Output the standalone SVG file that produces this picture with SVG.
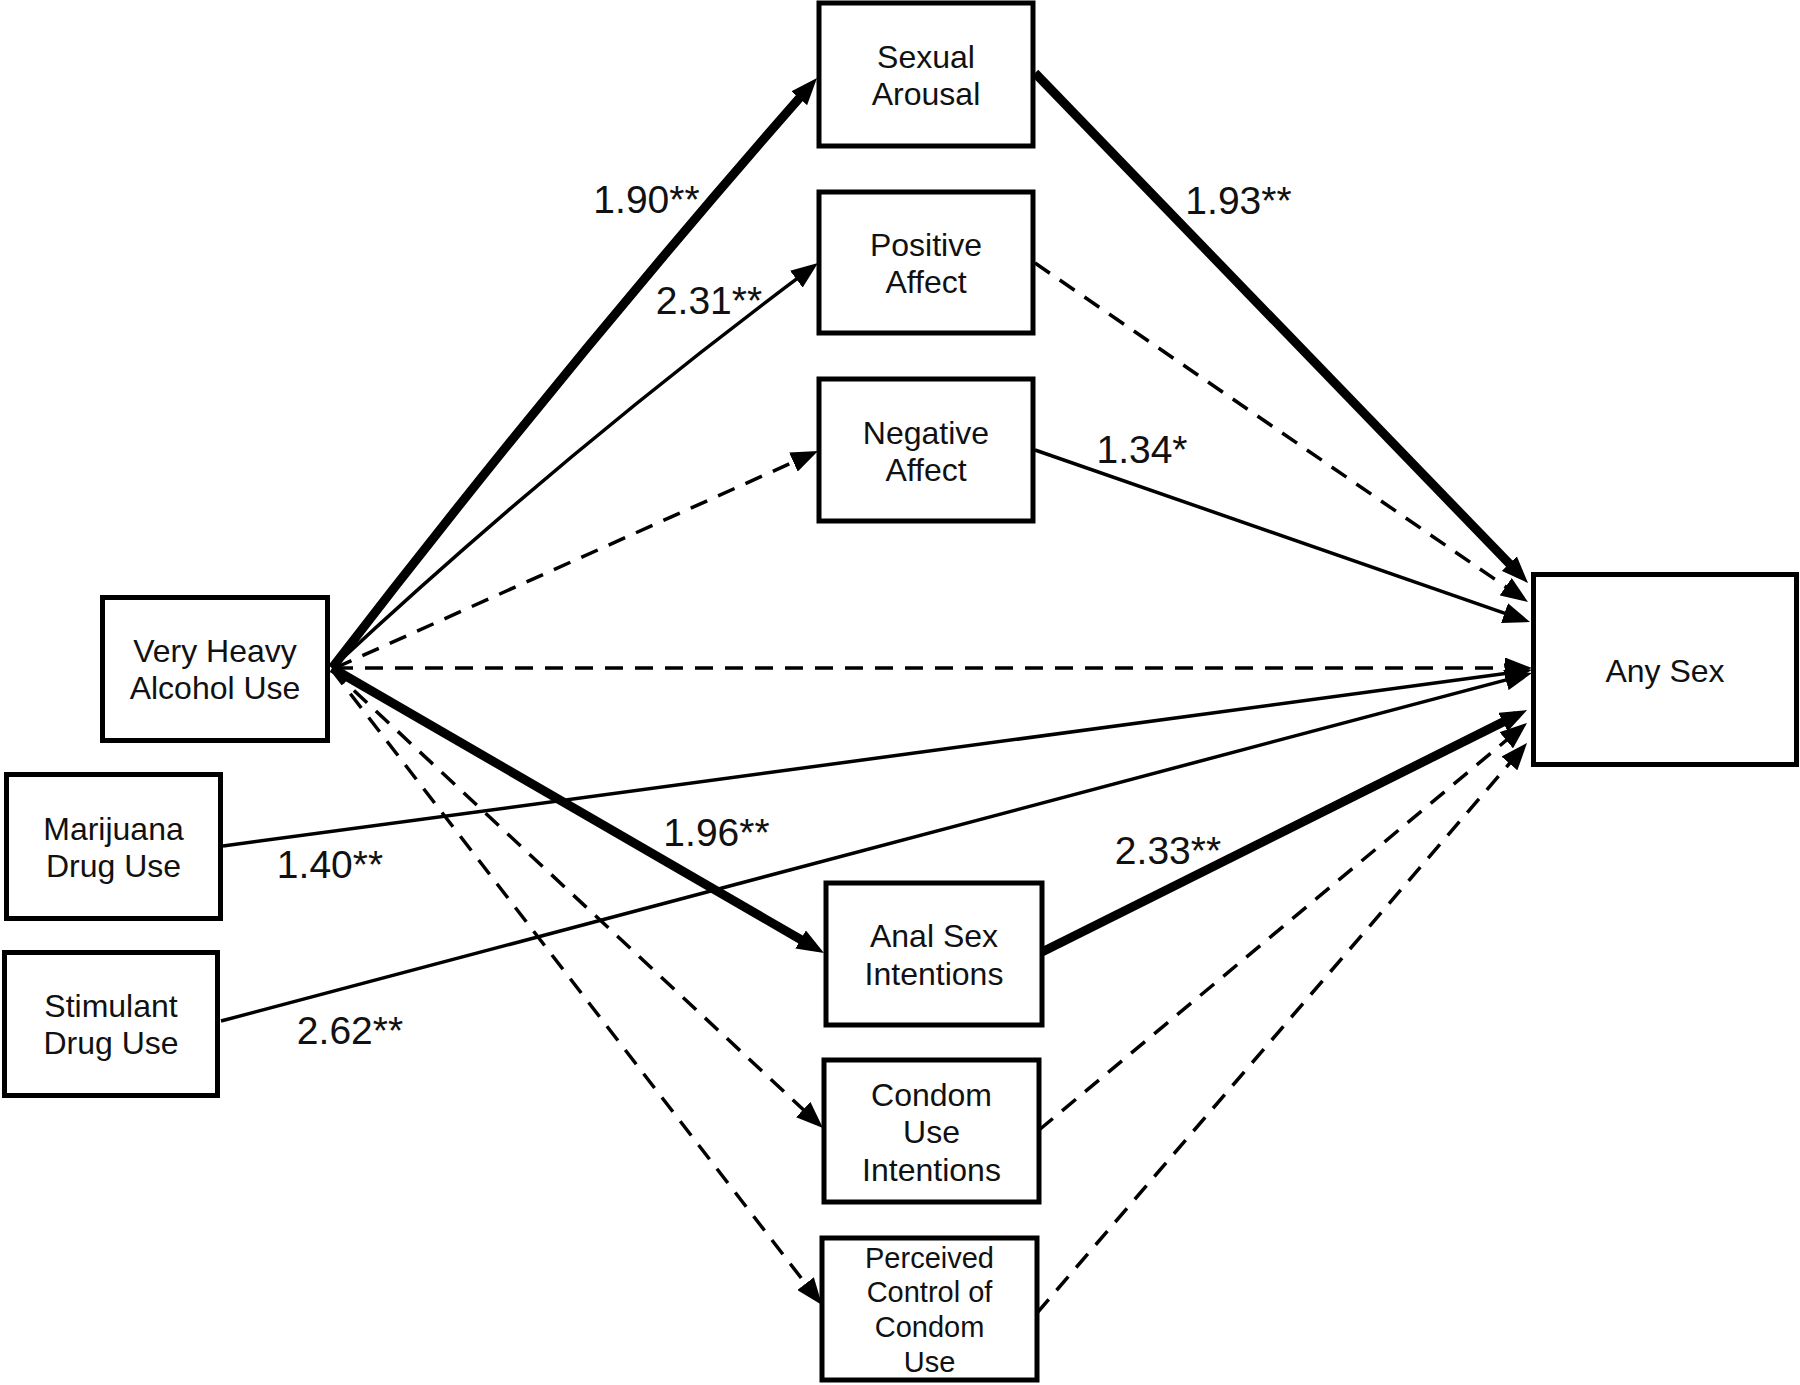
<svg xmlns="http://www.w3.org/2000/svg" width="1800" height="1385" viewBox="0 0 1800 1385">
<style>
.box{fill:#fff;stroke:#000;stroke-width:5}
.lbl{font-family:"Liberation Sans",Arial,sans-serif;font-size:32px;fill:#111;text-anchor:middle}
.small{font-size:29px}
.num{font-family:"Liberation Sans",Arial,sans-serif;font-size:39px;fill:#111;text-anchor:middle}
.e{fill:none;stroke:#000;marker-end:url(#ah)}
.thick{stroke-width:9}
.thin{stroke-width:3.5}
.dash{stroke-width:3.5;stroke-dasharray:18 12}
</style>
<defs>
<marker id="ah" markerUnits="userSpaceOnUse" markerWidth="27" markerHeight="21" refX="15" refY="10.5" orient="auto" viewBox="0 0 27 21">
<path d="M0,0 L27,10.5 L0,21 z" fill="#000"/>
</marker>
</defs>
<rect width="1800" height="1385" fill="#fff"/>
<g id="connectors">
<path class="e thick" d="M332,668 Q565,365 809.1,87"/>
<path class="e thin" d="M332,668 Q564,452 808.4,270.2"/>
<path class="e dash" d="M335,668 L807.1,455.9"/>
<path class="e dash" d="M335,668 L1520,668"/>
<path class="e thick" d="M332,668 L813.6,947"/>
<path class="e dash" d="M332,670 L814.2,1119.8"/>
<path class="e dash" d="M332,670 L814.7,1295.5"/>
<path class="e thick" d="M1035,73 L1519.7,574.4"/>
<path class="e dash" d="M1035,263 L1518.1,595.2"/>
<path class="e thin" d="M1035,450 L1518.7,618.1"/>
<path class="e thin" d="M223,846 L1520.1,671.6"/>
<path class="e thin" d="M221,1021 L1520.4,676.1"/>
<path class="e thick" d="M1042,952 L1516.3,715.4"/>
<path class="e dash" d="M1039,1130 L1517.8,730.7"/>
<path class="e dash" d="M1037,1313 L1519.2,752.1"/>
</g>
<g id="edge-labels">
<text class="num" x="646.5" y="213">1.90**</text>
<text class="num" x="709" y="314">2.31**</text>
<text class="num" x="1238.5" y="214">1.93**</text>
<text class="num" x="1142" y="463">1.34*</text>
<text class="num" x="716.5" y="846">1.96**</text>
<text class="num" x="330" y="878">1.40**</text>
<text class="num" x="350" y="1044">2.62**</text>
<text class="num" x="1168" y="864">2.33**</text>
</g>
<g id="very-heavy-alcohol-use">
<rect class="box" x="102.5" y="597.5" width="225" height="143"/>
<text class="lbl" x="215" y="662">Very Heavy</text>
<text class="lbl" x="215" y="699">Alcohol Use</text>
</g>
<g id="marijuana-drug-use">
<rect class="box" x="6.5" y="774.5" width="214" height="144"/>
<text class="lbl" x="113.5" y="840">Marijuana</text>
<text class="lbl" x="113.5" y="877">Drug Use</text>
</g>
<g id="stimulant-drug-use">
<rect class="box" x="4.5" y="952.5" width="213" height="143"/>
<text class="lbl" x="111" y="1017">Stimulant</text>
<text class="lbl" x="111" y="1054">Drug Use</text>
</g>
<g id="sexual-arousal">
<rect class="box" x="819" y="3" width="214" height="143"/>
<text class="lbl" x="926" y="68">Sexual</text>
<text class="lbl" x="926" y="105">Arousal</text>
</g>
<g id="positive-affect">
<rect class="box" x="819" y="192" width="214" height="141"/>
<text class="lbl" x="926" y="256">Positive</text>
<text class="lbl" x="926" y="293">Affect</text>
</g>
<g id="negative-affect">
<rect class="box" x="819" y="379" width="214" height="142"/>
<text class="lbl" x="926" y="444">Negative</text>
<text class="lbl" x="926" y="481">Affect</text>
</g>
<g id="anal-sex-intentions">
<rect class="box" x="826" y="883" width="216" height="142"/>
<text class="lbl" x="934" y="947">Anal Sex</text>
<text class="lbl" x="934" y="985">Intentions</text>
</g>
<g id="condom-use-intentions">
<rect class="box" x="824" y="1060" width="215" height="142"/>
<text class="lbl" x="931.5" y="1106">Condom</text>
<text class="lbl" x="931.5" y="1143">Use</text>
<text class="lbl" x="931.5" y="1181">Intentions</text>
</g>
<g id="perceived-control">
<rect class="box" x="822" y="1238" width="215" height="142"/>
<text class="lbl small" x="929.5" y="1268">Perceived</text>
<text class="lbl small" x="929.5" y="1302">Control of</text>
<text class="lbl small" x="929.5" y="1337">Condom</text>
<text class="lbl small" x="929.5" y="1372">Use</text>
</g>
<g id="any-sex">
<rect class="box" x="1533.5" y="574.5" width="263" height="190"/>
<text class="lbl" x="1665" y="682">Any Sex</text>
</g>
</svg>
